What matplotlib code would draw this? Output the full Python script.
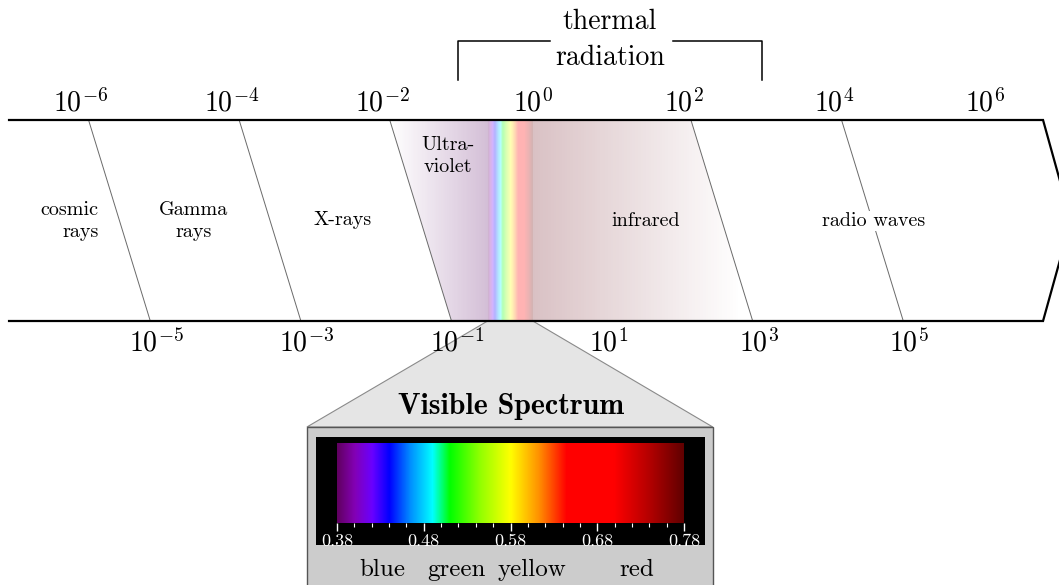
import numpy as np
import matplotlib.pyplot as plt
from matplotlib.colors import LinearSegmentedColormap, to_rgb
from matplotlib.patches import Polygon, Rectangle
from matplotlib.ticker import MultipleLocator

plt.rcParams['font.family'] = ['cmr10']
plt.rcParams['mathtext.fontset'] = 'cm'
plt.rcParams['axes.unicode_minus'] = False

# wavelength exponents (micrometres) labelled above / below the band
top_exps = [-6, -4, -2, 0, 2, 4, 6]
bottom_exps = [-5, -3, -1, 1, 3, 5]
# slanted region boundaries: (top exponent, bottom exponent)
boundaries = [(-6, -5), (-4, -3), (-2, -1), (2, 3), (4, 5)]

region_names = ['cosmic\nrays', 'Gamma\nrays', 'X-rays', 'Ultra-\nviolet', 'infrared', 'radio waves']
region_x = [-5.77, -4.5, -2.52, -1.13, 1.5, 4.53]
region_y = [221, 221, 220, 156, 221, 221]
region_ha = ['right', 'center', 'center', 'center', 'center', 'center']

thermal_range = (-1.0, 3.05)
visible_range = (-0.6, 0.0)
uv_start = -1.9
ir_end = 2.75

# visible spectrum colour stops (wavelength in micrometres)
spec_wl = [0.38, 0.40, 0.42, 0.44, 0.465, 0.49, 0.51, 0.545, 0.58, 0.6125, 0.645, 0.70, 0.74, 0.78]
spec_col = ['#610061', '#8300b5', '#6a00ff', '#0000ff', '#0092ff', '#00ffff', '#00ff00',
            '#92ff00', '#ffff00', '#ff9200', '#ff0000', '#ff0000', '#b50000', '#610000']
spec_ticks = [0.38, 0.48, 0.58, 0.68, 0.78]
color_names = ['blue', 'green', 'yellow', 'red']
color_wl = [0.432, 0.518, 0.605, 0.725]

cmap = LinearSegmentedColormap.from_list(
    'spec', [((w - spec_wl[0]) / (spec_wl[-1] - spec_wl[0]), c) for w, c in zip(spec_wl, spec_col)])

# band geometry (x in decades, y in pixel rows)
y_top, y_bot = 120, 321
x_left, x_right, x_tip = -6.956, 6.776, 7.147
top_off, bot_off = 0.1, -0.08

fig = plt.figure(figsize=(10.59, 5.85), dpi=100)
ax = fig.add_axes([0, 0, 1, 1])

# one image for UV fade + pale rainbow + infrared fade, so there are no seams
xs = np.linspace(uv_start, ir_end, 3000)
fill = np.zeros((1, xs.size, 4))
uv = xs < visible_range[0]
vis = (xs >= visible_range[0]) & (xs < visible_range[1])
ir = xs >= visible_range[1]
fill[0, uv, :3] = to_rgb('#6e2878')
fill[0, uv, 3] = 0.3 * (xs[uv] - uv_start) / (visible_range[0] - uv_start)
fill[0, vis, :3] = cmap((xs[vis] - visible_range[0]) / (visible_range[1] - visible_range[0]))[:, :3]
fill[0, vis, 3] = 0.3
fill[0, ir, :3] = to_rgb('#82323c')
fill[0, ir, 3] = 0.3 * (ir_end - xs[ir]) / (ir_end - visible_range[1])
im = ax.imshow(fill, extent=(uv_start, ir_end, y_bot, y_top), aspect='auto',
               interpolation='nearest', zorder=1)
im.set_clip_path(Polygon([(uv_start, y_top), (2 + top_off, y_top), (3 + bot_off, y_bot),
                          (-1 + bot_off, y_bot)], transform=ax.transData))

for t, b in boundaries:
    ax.plot([t + top_off, b + bot_off], [y_top, y_bot], color='#6a6a6a', lw=0.7, zorder=2)

ax.plot([x_left, x_right, x_tip, x_right, x_left], [y_top, y_top, (y_top + y_bot) / 2, y_bot, y_bot],
        color='black', lw=1.6, zorder=5, solid_joinstyle='miter')

for e in top_exps:
    ax.text(e, 112, '$10^{%d}$' % e, ha='center', va='baseline', size=20)
for e in bottom_exps:
    ax.text(e, 351, '$10^{%d}$' % e, ha='center', va='baseline', size=20, zorder=6)

for name, x, y, ha in zip(region_names, region_x, region_y, region_ha):
    kw = {}
    if name == 'radio waves':
        kw['bbox'] = dict(fc='white', ec='none', pad=1)
    ax.text(x, y, name, ha=ha, va='center', multialignment=ha, size=14.5,
            linespacing=1.25, zorder=4, **kw)

# thermal radiation bracket
tl, tr = thermal_range
tc = (tl + tr) / 2
ax.plot([tl, tl, tc - 0.8], [80, 41, 41], color='black', lw=1.1)
ax.plot([tc + 0.84, tr, tr], [41, 41, 80], color='black', lw=1.1)
ax.text(tc, 22, 'thermal', ha='center', va='center', size=20)
ax.text(tc, 58, 'radiation', ha='center', va='center', size=20)

# zoom-out panel for the visible part
ax.add_patch(Polygon([(visible_range[0], y_bot), (visible_range[1], y_bot), (2.39, 427), (-3.0, 427)],
                     fc='#e5e5e5', ec='#8a8a8a', lw=0.8, zorder=3))
ax.add_patch(Rectangle((-3.0, 427), 5.39, 200, fc='#cccccc', ec='#555555', lw=1.0, zorder=3))
ax.add_patch(Rectangle((-2.879, 437), 5.166, 108, fc='black', ec='none', zorder=3))
ax.text(-0.29, 406, 'Visible Spectrum', ha='center', va='center', size=21.5,
        family='cmb10', zorder=4)

ax.set_xlim(-7.076, 6.988)
ax.set_ylim(585, 0)
ax.axis('off')

sax = fig.add_axes([337 / 1059, 1 - 523 / 585, 347 / 1059, 80 / 585])
sax.imshow(np.linspace(0, 1, 512)[None, :], extent=(0.38, 0.78, 0, 1), aspect='auto',
           cmap=cmap, interpolation='bilinear')
sax.set_xlim(0.38, 0.78)
sax.set_xticks(spec_ticks)
sax.set_xticklabels(['%.2f' % v for v in spec_ticks])
sax.xaxis.set_minor_locator(MultipleLocator(0.02))
sax.set_yticks([])
for s in sax.spines.values():
    s.set_visible(False)
sax.tick_params(axis='x', which='major', colors='white', direction='out', length=6, width=1,
                labelsize=13, pad=2)
sax.tick_params(axis='x', which='minor', colors='white', direction='out', length=3, width=0.8)

for name, w in zip(color_names, color_wl):
    sax.text(w, -0.59, name, transform=sax.get_xaxis_transform(), ha='center', va='center',
             size=18, clip_on=False)

fig.savefig('out.png', dpi=100)
